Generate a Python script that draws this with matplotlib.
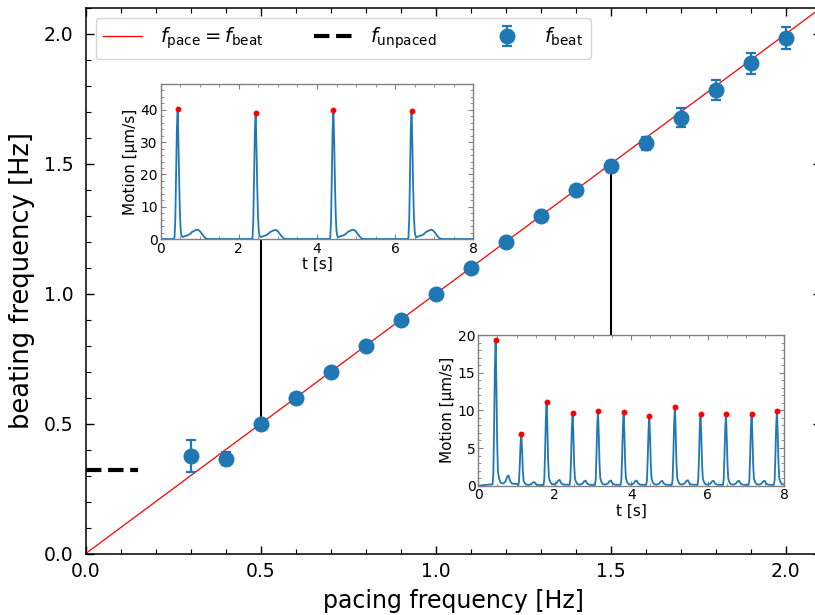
import numpy as np
import matplotlib
matplotlib.use("Agg")
import matplotlib.pyplot as plt
from matplotlib.ticker import MultipleLocator, AutoMinorLocator

# ---- main data: beating vs pacing frequency ----
pacing = [0.3, 0.4, 0.5, 0.6, 0.7, 0.8, 0.9, 1.0, 1.1, 1.2, 1.3, 1.4,
          1.5, 1.6, 1.7, 1.8, 1.9, 2.0]
beating = [0.375, 0.365, 0.5, 0.6, 0.7, 0.8, 0.9, 1.0, 1.1, 1.2, 1.3, 1.4,
           1.49, 1.58, 1.678, 1.784, 1.887, 1.986]
beating_err = [0.062, 0.025, 0.01, 0.01, 0.01, 0.01, 0.01, 0.01, 0.01, 0.01,
               0.01, 0.01, 0.02, 0.025, 0.038, 0.04, 0.04, 0.042]
f_unpaced = 0.321
unpaced_span = [0.0, 0.149]

# ---- inset traces: beat times / peak amplitudes ----
peaks_05_t = [0.434, 2.43, 4.42, 6.42]
peaks_05_v = [40.2, 39.1, 40.0, 39.7]
# beat waveform at 0.5 Hz pacing, offsets [s] from the peak and fraction of peak
shape_05_dt = [-0.10, -0.08, -0.06, -0.04, -0.02, 0.0, 0.02, 0.04, 0.06, 0.08,
               0.10, 0.13, 0.17, 0.22, 0.27, 0.32, 0.37, 0.42, 0.47, 0.52,
               0.57, 0.62, 0.67, 0.72, 0.78]
shape_05_v = [0.0, 0.012, 0.15, 0.5, 0.85, 1.0, 0.75, 0.42, 0.18, 0.06,
              0.025, 0.015, 0.02, 0.025, 0.03, 0.04, 0.055, 0.062, 0.07, 0.072,
              0.06, 0.04, 0.02, 0.005, 0.0]

peaks_15_t = [0.453, 1.124, 1.786, 2.466, 3.129, 3.80, 4.47, 5.14, 5.81,
              6.475, 7.146, 7.808]
peaks_15_v = [19.4, 6.86, 11.06, 9.6, 9.9, 9.78, 9.25, 10.4, 9.5, 9.47,
              9.47, 9.95]
shape_15_dt = [-0.08, -0.06, -0.04, -0.02, 0.0, 0.02, 0.04, 0.06, 0.09, 0.13,
               0.2, 0.26, 0.3, 0.34, 0.38, 0.43, 0.5, 0.579]
shape_15_v = [0.01, 0.08, 0.4, 0.8, 1.0, 0.7, 0.3, 0.1, 0.05, 0.02,
              0.015, 0.03, 0.06, 0.07, 0.03, 0.015, 0.012, 0.012]

BLUE = "#1f77b4"


def build_trace(times, amps, dts, shape):
    t = [0.0]
    v = [0.0]
    for tp, a in zip(times, amps):
        t.extend(tp + np.asarray(dts))
        v.extend(a * np.asarray(shape))
    return np.asarray(t), np.asarray(v)


fig = plt.figure(figsize=(8.15, 6.15), dpi=100)
W, H = 815.0, 615.0


def px_axes(left, right, top, bottom):
    return [left / W, 1 - bottom / H, (right - left) / W, (bottom - top) / H]


ax = fig.add_axes(px_axes(85.8, 820.8, 8.0, 553.5))
ax.set_xlim(0, 2.1)
ax.set_ylim(0, 2.1)

line_eq, = ax.plot([0, 2.1], [0, 2.1], color="red", lw=0.9, zorder=2)
line_un, = ax.plot(unpaced_span, [f_unpaced, f_unpaced], color="black",
                   lw=3, ls="--", zorder=2)
eb = ax.errorbar(pacing, beating, yerr=beating_err, fmt="o", color=BLUE,
                 ms=10.5, elinewidth=1.6, capsize=3.6, capthick=1.6, zorder=4)

ax.set_xlabel("pacing frequency [Hz]", fontsize=17, labelpad=6)
ax.set_ylabel("beating frequency [Hz]", fontsize=18.5, labelpad=6)
ax.xaxis.set_major_locator(MultipleLocator(0.5))
ax.yaxis.set_major_locator(MultipleLocator(0.5))
ax.xaxis.set_minor_locator(MultipleLocator(0.1))
ax.yaxis.set_minor_locator(MultipleLocator(0.1))
ax.tick_params(which="both", direction="in", top=True, right=True,
               labelsize=13.5)
ax.tick_params(axis="x", which="both", pad=6)
ax.tick_params(axis="y", which="both", pad=9)
ax.tick_params(which="major", length=6, width=1)
ax.tick_params(which="minor", length=3.5, width=0.8)
for s in ax.spines.values():
    s.set_linewidth(1.1)

ax.legend([line_eq, line_un, eb],
          [r"$f_{\rm pace} = f_{\rm beat}$", r"$f_{\rm unpaced}$",
           r"$f_{\rm beat}$"],
          loc="upper left", ncol=3, fontsize=14, columnspacing=2.6,
          handletextpad=0.9)

# ---- insets ----
GRAY = "#808080"


def style_inset(a, ymajor):
    a.set_xlim(0, 8)
    a.xaxis.set_major_locator(MultipleLocator(2))
    a.xaxis.set_minor_locator(AutoMinorLocator(4))
    a.yaxis.set_major_locator(MultipleLocator(ymajor))
    a.yaxis.set_minor_locator(AutoMinorLocator(5))
    a.tick_params(which="both", direction="in", top=True, right=True,
                  labelsize=10, color=GRAY, pad=2)
    a.tick_params(which="major", length=3.5)
    a.tick_params(which="minor", length=2)
    for s in a.spines.values():
        s.set_color(GRAY)
        s.set_linewidth(1.0)
    a.set_xlabel("t [s]", fontsize=11, labelpad=1)
    a.set_ylabel("Motion [µm/s]", fontsize=11, labelpad=2)


ins1 = fig.add_axes(px_axes(160.7, 473.3, 84.0, 239.0))
t1, v1 = build_trace(peaks_05_t, peaks_05_v, shape_05_dt, shape_05_v)
t1 = np.append(t1, 8.0)
v1 = np.append(v1, 0.0)
ins1.plot(t1, v1, color=BLUE, lw=1.3)
ins1.plot(peaks_05_t, peaks_05_v, "o", color="red", ms=3.2, zorder=3)
ins1.set_ylim(0, 48)
style_inset(ins1, 10)

ins2 = fig.add_axes(px_axes(478.3, 784.3, 335.0, 485.7))
t2, v2 = build_trace(peaks_15_t, peaks_15_v, shape_15_dt, shape_15_v)
ins2.plot(t2, v2, color=BLUE, lw=1.3)
ins2.plot(peaks_15_t, peaks_15_v, "o", color="red", ms=3.2, zorder=3)
ins2.set_ylim(0, 20)
style_inset(ins2, 5)

# ---- connectors from data points to the insets ----
to_data = ax.transData.inverted()
y_ins1 = to_data.transform(fig.transFigure.transform((0, ins1.get_position().y0)))[1]
y_ins2 = to_data.transform(fig.transFigure.transform((0, ins2.get_position().y1)))[1]
ax.plot([pacing[2], pacing[2]], [beating[2], y_ins1], color="black", lw=1.5,
        zorder=3)
ax.plot([pacing[12], pacing[12]], [beating[12], y_ins2], color="black", lw=1.5,
        zorder=3)

fig.savefig("out.png", dpi=100)
